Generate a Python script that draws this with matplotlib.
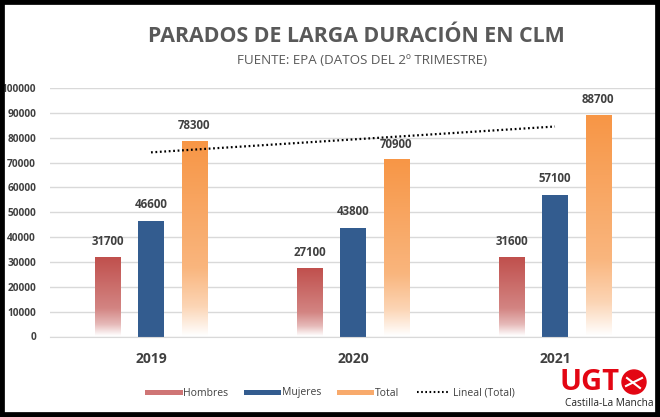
import numpy as np
import matplotlib
matplotlib.use("Agg")
import matplotlib.pyplot as plt
from matplotlib.lines import Line2D
from matplotlib.patches import Rectangle, Circle
from matplotlib.transforms import IdentityTransform

plt.rcParams['font.family'] = ['Open Sans', 'DejaVu Sans']

years = ['2019', '2020', '2021']
hombres = [31700, 27100, 31600]
mujeres = [46600, 43800, 57100]
total = [78300, 70900, 88700]
yticks = [0, 10000, 20000, 30000, 40000, 50000, 60000, 70000, 80000, 90000, 100000]

c_hom = '#c0504d'
c_muj = '#335c8f'
c_tot = '#f79646'
c_txt = '#404040'
c_grid = '#d9d9d9'

W, H = 660, 417
fig = plt.figure(figsize=(W / 100, H / 100), dpi=100)
# axes in pixel coords: left 50, right 656, bottom 336.5, top 88
ax = fig.add_axes([50 / W, (H - 336.5) / H, 606 / W, (336.5 - 88) / H])

x = np.arange(len(years))
bw = 0.124
off = 0.213


def grad_img(color):
    rgb = np.array(matplotlib.colors.to_rgb(color))
    t = np.linspace(0, 1, 200)
    w = np.interp(t, [0, 0.65, 0.85, 1.0], [0, 0.3, 0.6, 1.0])
    img = rgb[None, :] * (1 - w[:, None]) + w[:, None]
    return img[:, None, :]


def gradient_bars(xs, vals, color):
    bars = ax.bar(xs, vals, bw, color='none', zorder=2)
    img = grad_img(color)
    for b in bars:
        x0 = b.get_x()
        ax.imshow(img, extent=(x0, x0 + b.get_width(), 0, b.get_height()),
                  aspect='auto', origin='upper', zorder=2, interpolation='bilinear')
    return bars


b1 = gradient_bars(x - off, hombres, c_hom)
b2 = ax.bar(x, mujeres, bw, color=c_muj, zorder=2)
b3 = gradient_bars(x + off, total, c_tot)

for bars in (b1, b2, b3):
    ax.bar_label(bars, labels=[str(int(b.get_height())) for b in bars], padding=7,
                 fontsize=8.3, fontweight='bold', color=c_txt)

# linear trend of total
k, c = np.polyfit(x, total, 1)
ax.plot(x, k * x + c, color='black', lw=1.6, linestyle=(0, (0.8, 1.2)), zorder=3)

ax.set_xlim(-0.5, 2.5)
ax.set_ylim(0, 100000)
ax.set_yticks(yticks)
ax.set_yticklabels([str(v) for v in yticks], fontsize=7.3, fontweight='bold', color=c_txt)
ax.set_xticks(x)
ax.set_xticklabels(years, fontsize=10, fontweight='bold', color=c_txt)
ax.tick_params(length=0)
ax.tick_params(axis='y', pad=10)
ax.tick_params(axis='x', pad=11)
ax.grid(axis='y', color=c_grid, lw=1, zorder=0)
ax.set_axisbelow(True)
for s in ['top', 'right', 'left']:
    ax.spines[s].set_visible(False)
ax.spines['bottom'].set_color(c_grid)

fig.text(356 / W, 1 - 36 / H, 'PARADOS DE LARGA DURACIÓN EN CLM', ha='center', va='center',
         fontsize=15.4, fontweight='bold', color='#595959')
fig.text(362 / W, 1 - 60 / H, 'FUENTE: EPA (DATOS DEL 2º TRIMESTRE)', ha='center', va='center',
         fontsize=9.6, color='#595959')

handles = [Line2D([], [], color='#cf7575', lw=3.6),
           Line2D([], [], color=c_muj, lw=3.6),
           Line2D([], [], color='#f8aa6c', lw=3.6),
           Line2D([], [], color='black', lw=1.5, linestyle=(0, (0.8, 1.2)))]
fig.legend(handles, ['Hombres', 'Mujeres', 'Total', 'Lineal (Total)'], loc='center',
           bbox_to_anchor=(331 / W, 1 - 393 / H), ncol=4, frameon=False, fontsize=7.5,
           handlelength=3.1, handletextpad=0.35, columnspacing=1.7, labelcolor=c_txt)

# logo
fig.text(590 / W, 1 - 382 / H, 'UGT', ha='center', va='center', fontsize=21,
         fontweight='bold', color='#e30613')
fig.patches.append(Circle((634, H - 382), 12, transform=IdentityTransform(),
                          color='#e30613'))
fig.add_artist(Line2D([626, 642], [H - 386, H - 378], transform=IdentityTransform(),
                      color='white', lw=1.5))
fig.add_artist(Line2D([627, 640], [H - 378, H - 388], transform=IdentityTransform(),
                      color='white', lw=1.5))
fig.text(609 / W, 1 - 403 / H, 'Castilla-La Mancha', ha='center', va='center', fontsize=7.3,
         color='#222222')

# black frame
fig.patches.append(Rectangle((0, 0), 1, 1, transform=fig.transFigure, fill=False,
                             edgecolor='black', lw=7))

fig.savefig('out.png', dpi=100)
